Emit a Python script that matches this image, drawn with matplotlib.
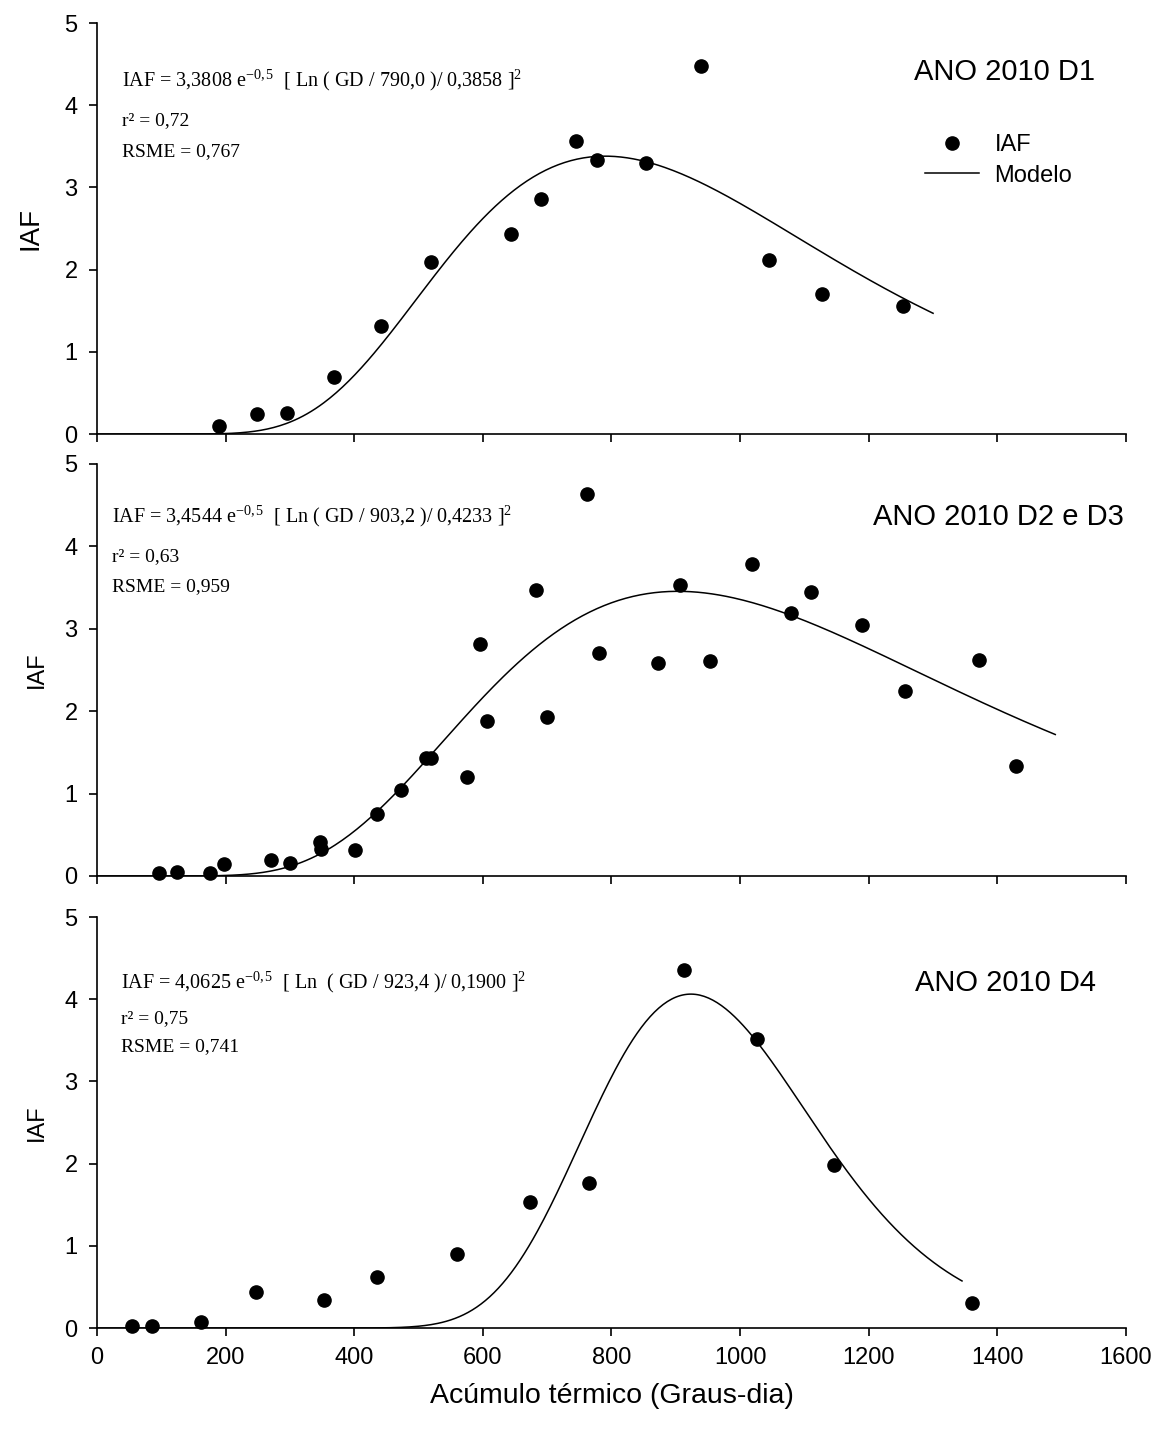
import numpy as np
import matplotlib

matplotlib.use("Agg")
import matplotlib.pyplot as plt

plt.rcParams["font.family"] = ["Liberation Sans", "DejaVu Sans"]
plt.rcParams["mathtext.fontset"] = "custom"
plt.rcParams["mathtext.rm"] = "Liberation Serif"
plt.rcParams["mathtext.it"] = "Liberation Serif:italic"

# ---- data ------------------------------------------------------------------
gd_d1 = [190, 249, 296, 369, 442, 520, 644, 690, 745, 778, 853, 939, 1045,
         1127, 1253]
iaf_d1 = [0.10, 0.24, 0.25, 0.69, 1.31, 2.09, 2.43, 2.86, 3.56, 3.33, 3.30,
          4.48, 2.12, 1.70, 1.56]

gd_d23 = [97, 124, 176, 197, 270, 300, 346, 349, 401, 435, 473, 512, 520,
          575, 596, 607, 682, 700, 762, 781, 872, 907, 953, 1019, 1079, 1110,
          1190, 1257, 1371, 1429]
iaf_d23 = [0.03, 0.05, 0.04, 0.15, 0.19, 0.16, 0.41, 0.33, 0.32, 0.75, 1.04,
           1.43, 1.43, 1.20, 2.81, 1.88, 3.47, 1.93, 4.64, 2.71, 2.59, 3.53,
           2.61, 3.79, 3.19, 3.45, 3.05, 2.25, 2.62, 1.33]

gd_d4 = [54, 86, 162, 248, 353, 435, 560, 673, 765, 912, 1026, 1146, 1360]
iaf_d4 = [0.02, 0.03, 0.07, 0.44, 0.34, 0.62, 0.90, 1.53, 1.77, 4.35, 3.52,
          1.98, 0.31]

# fitted log-normal parameters printed on each panel: a, x0, b
model_params = [(3.3808, 790.0, 0.3858), (3.4544, 903.2, 0.4233),
                (4.0625, 923.4, 0.1900)]
model_end = [1300, 1490, 1345]

titles = ["ANO 2010 D1", "ANO 2010 D2 e D3", "ANO 2010 D4"]
equations = [
    r"IAF = 3,3808 e$^{-0,5}$  [ Ln ( GD / 790,0 )/ 0,3858 ]$^{2}$",
    r"IAF = 3,4544 e$^{-0,5}$  [ Ln ( GD / 903,2 )/ 0,4233 ]$^{2}$",
    r"IAF = 4,0625 e$^{-0,5}$  [ Ln  ( GD / 923,4 )/ 0,1900 ]$^{2}$",
]
r2_text = ["r² = 0,72", "r² = 0,63", "r² = 0,75"]
rsme_text = ["RSME = 0,767", "RSME = 0,959", "RSME = 0,741"]

series = [(gd_d1, iaf_d1), (gd_d23, iaf_d23), (gd_d4, iaf_d4)]

# ---- figure ------------------------------------------------------------------
fig = plt.figure(figsize=(11.6, 14.32), dpi=100)
boxes = [(0.0836, 0.6969, 0.8871, 0.2870),
         (0.0836, 0.3883, 0.8871, 0.2877),
         (0.0836, 0.0726, 0.8871, 0.2870)]
title_pos = [(1552, 4.40), (1596, 4.36), (1554, 4.20)]
eq_pos = [(39, 4.30, 3.81, 3.44), (24, 4.36, 3.875, 3.51),
          (37, 4.20, 3.77, 3.42)]
ylab_size = [20, 17, 17]
ylab_pad = [15, 12, 12]

for i, box in enumerate(boxes):
    ax = fig.add_axes(box)
    gd, iaf = series[i]
    a, x0, b = model_params[i]
    xm = np.linspace(1, model_end[i], 400)
    ym = a * np.exp(-0.5 * (np.log(xm / x0) / b) ** 2)
    ax.plot(gd, iaf, "o", color="black", markersize=9.5, label="IAF",
            clip_on=False, zorder=3)
    ax.plot(xm, ym, "-", color="black", lw=1.1, label="Modelo")

    ax.set_xlim(0, 1600)
    ax.set_ylim(0, 5)
    ax.set_xticks(np.arange(0, 1601, 200))
    ax.set_yticks(np.arange(0, 6, 1))
    for s in ("top", "right"):
        ax.spines[s].set_visible(False)
    for s in ("left", "bottom"):
        ax.spines[s].set_linewidth(1.2)
    ax.tick_params(direction="out", length=6, width=1.2, labelsize=17,
                   pad=8)
    ax.set_ylabel("IAF", fontsize=ylab_size[i], labelpad=ylab_pad[i])
    if i < 2:
        ax.tick_params(axis="x", labelbottom=False)
    else:
        ax.set_xlabel("Acúmulo térmico (Graus-dia)", fontsize=20.5,
                      labelpad=10)

    tx, ty = title_pos[i]
    ax.text(tx, ty, titles[i], fontsize=21, ha="right", va="center")
    ex, ey, ry, sy = eq_pos[i]
    ax.text(ex, ey, equations[i], fontsize=14.5, ha="left", va="center",
            family="Liberation Serif")
    ax.text(ex, ry, r2_text[i], fontsize=14, ha="left", va="center",
            family="Liberation Serif")
    ax.text(ex, sy, rsme_text[i], fontsize=14, ha="left", va="center",
            family="Liberation Serif")

    if i == 0:
        ax.legend(loc="upper left", bbox_to_anchor=(0.784, 0.781),
                  frameon=False, fontsize=17, handlelength=2.3,
                  handletextpad=0.64, labelspacing=0.35)

fig.savefig("out.png", dpi=100)
